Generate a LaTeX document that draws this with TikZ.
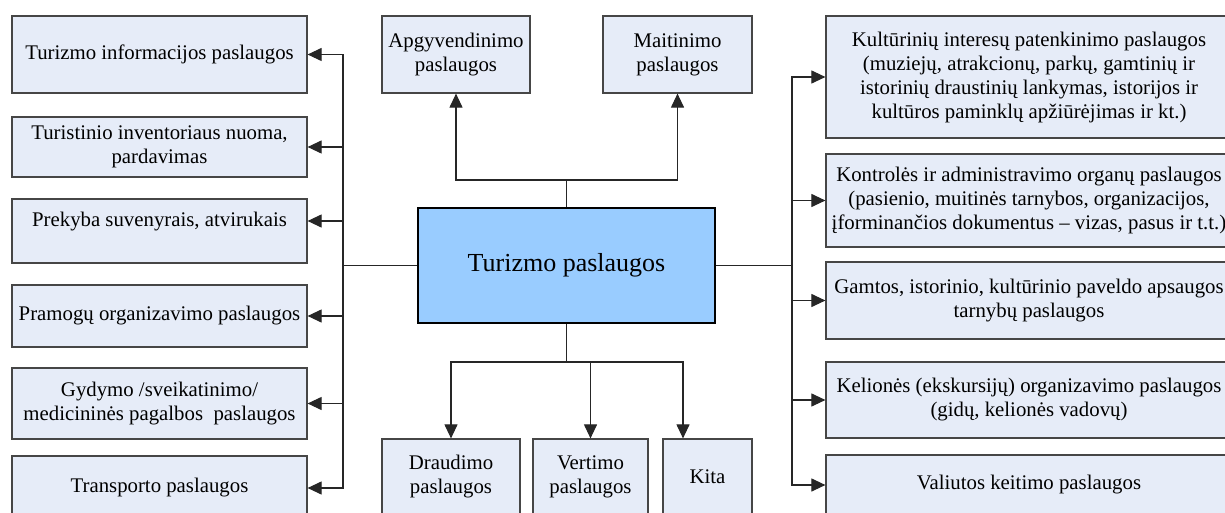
\documentclass[tikz,border=0pt]{standalone}
\usepackage{fontspec}
\setmainfont{Liberation Serif}
\usetikzlibrary{arrows.meta}
\definecolor{boxfill}{HTML}{E6ECF8}
\definecolor{hubfill}{HTML}{99CCFF}
\definecolor{boxline}{HTML}{464646}
\newcommand\boxfont{\fontsize{20.8}{24}\selectfont}
\newcommand\hubfont{\fontsize{26}{30}\selectfont}

\begin{document}
\begin{tikzpicture}[x=1pt,y=-1pt,
  svc/.style={draw=boxline, fill=boxfill, line width=1.2pt, inner sep=0pt,
              align=center, font=\boxfont},
  hub/.style={draw=black, fill=hubfill, line width=1.2pt, inner sep=0pt,
              font=\hubfont},
  link/.style={draw=black!85, line width=1.1pt},
  arr/.style={link, -{Triangle[length=14pt,width=13pt]}}]
\useasboundingbox (0,0) rectangle (1225,513);
\clip (0,0) rectangle (1225,513);

% central node
\node[hub, minimum width=297pt, minimum height=115pt] (hub) at (566.5,265.5)
  {Turizmo paslaugos};

% left column
\node[svc, minimum width=295pt, minimum height=77pt] (l1) at (159.5,54.5)
  {Turizmo informacijos paslaugos};
\node[svc, minimum width=295pt, minimum height=60pt] (l2) at (159.5,147)
  {Turistinio inventoriaus nuoma,\\pardavimas};
\node[svc, minimum width=295pt, minimum height=64pt,
      text height=15pt, text depth=24.5pt] (l3) at (159.5,231)
  {Prekyba suvenyrais, atvirukais};
\node[svc, minimum width=295pt, minimum height=62pt] (l4) at (159.5,316)
  {Pramogų organizavimo paslaugos};
\node[svc, minimum width=295pt, minimum height=71pt] (l5) at (159.5,403.5)
  {Gydymo /sveikatinimo/\\medicininės pagalbos\ \ paslaugos};
\node[svc, minimum width=295pt, minimum height=64pt] (l6) at (159.5,488)
  {Transporto paslaugos};

% top row
\node[svc, minimum width=148pt, minimum height=77pt] (apg) at (456,54.5)
  {Apgyvendinimo\\paslaugos};
\node[svc, minimum width=149pt, minimum height=77pt] (mait) at (677.5,54.5)
  {Maitinimo\\paslaugos};

% bottom row
\node[svc, minimum width=138pt, minimum height=76pt] (draud) at (451,477)
  {Draudimo\\paslaugos};
\node[svc, minimum width=115pt, minimum height=76pt] (vert) at (590.5,477)
  {Vertimo\\paslaugos};
\node[svc, minimum width=89pt, minimum height=76pt] (kita) at (707.5,477)
  {Kita};

% right column
\node[svc, minimum width=406pt, minimum height=122pt] (r1) at (1029,77)
  {Kultūrinių interesų patenkinimo paslaugos\\(muziejų, atrakcionų, parkų, gamtinių ir\\istorinių draustinių lankymas, istorijos ir\\kultūros paminklų apžiūrėjimas ir kt.)};
\node[svc, minimum width=406pt, minimum height=93pt] (r2) at (1029,200.5)
  {Kontrolės ir administravimo organų paslaugos\\(pasienio, muitinės tarnybos, organizacijos,\\įforminančios dokumentus -- vizas, pasus ir t.t.)};
\node[svc, minimum width=406pt, minimum height=77pt] (r3) at (1029,300.5)
  {Gamtos, istorinio, kultūrinio paveldo apsaugos\\tarnybų paslaugos};
\node[svc, minimum width=406pt, minimum height=76pt] (r4) at (1029,400)
  {Kelionės (ekskursijų) organizavimo paslaugos\\(gidų, kelionės vadovų)};
\node[svc, minimum width=406pt, minimum height=60pt] (r5) at (1029,485)
  {Valiutos keitimo paslaugos};

% junction points of the connector trees
\coordinate (tj) at (566.5,180);
\coordinate (bj) at (566.5,362);
\coordinate (lj) at (343,265.5);
\coordinate (rj) at (792,265.5);

% upward branch
\draw[link] (hub.north) -- (tj);
\draw[arr] (tj) -| (apg.south);
\draw[arr] (tj) -| (mait.south);

% downward branch
\draw[link] (hub.south) -- (bj);
\draw[arr] (bj) -| (draud.north);
\draw[arr] (bj) -| (vert.north);
\draw[arr] (bj) -| ([xshift=-24.5pt]kita.north);

% left branch
\draw[link] (hub.west) -- (lj);
\foreach \n in {l1,l2,l4,l5,l6} \draw[arr] (lj) |- (\n.east);
\draw[arr] (lj) |- ([yshift=10pt]l3.east);

% right branch
\draw[link] (hub.east) -- (rj);
\foreach \n in {r1,r2,r3,r4,r5} \draw[arr] (rj) |- (\n.west);
\end{tikzpicture}
\end{document}
